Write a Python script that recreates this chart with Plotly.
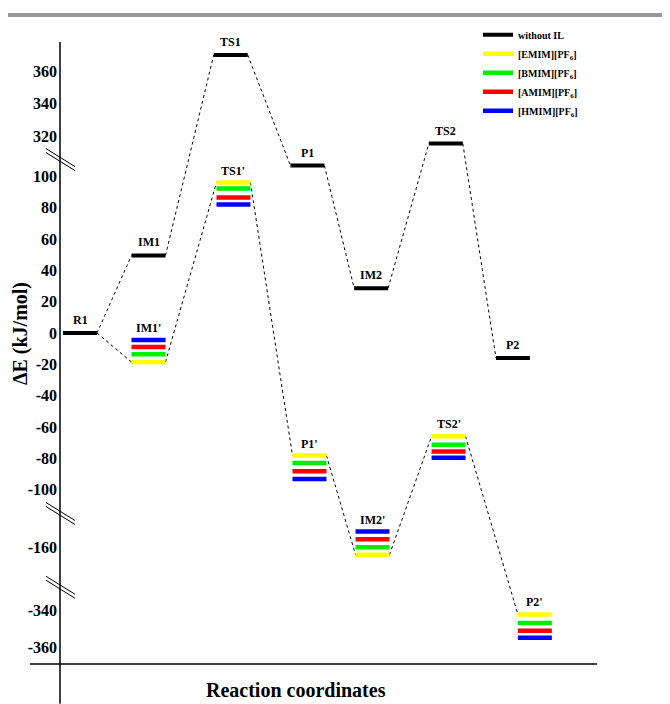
import plotly.graph_objects as go

# ---------------- data ----------------
stages_noil = ["R1", "IM1", "TS1", "P1", "IM2", "TS2", "P2"]
rc_noil = [0.0, 1.0, 2.2, 3.32, 4.25, 5.34, 6.32]
e_noil = [0.0, 49.6, 369.7, 107.0, 28.7, 315.8, -15.9]

stages_il = ["IM1'", "TS1'", "P1'", "IM2'", "TS2'", "P2'"]
rc_il = [1.0, 2.24, 3.35, 4.27, 5.38, 6.64]
e_emim = [-18.5, 96.2, -78.3, -164.6, -66.0, -342.3]
e_bmim = [-13.6, 92.4, -83.0, -159.8, -71.3, -347.0]
e_amim = [-8.9, 86.6, -88.3, -154.7, -75.6, -351.2]
e_hmim = [-4.5, 82.2, -93.2, -149.8, -79.6, -355.0]

series_names = ["without IL", "[EMIM][PF<sub>6</sub>]", "[BMIM][PF<sub>6</sub>]",
                "[AMIM][PF<sub>6</sub>]", "[HMIM][PF<sub>6</sub>]"]
series_colors = ["#000000", "#ffff00", "#00ee00", "#ff0000", "#0000ff"]

y_ticks = [360, 340, 320, 100, 80, 60, 40, 20, 0, -20, -40, -60, -80, -100,
           -160, -340, -360]

# ---------------- broken-axis scale ----------------
# (real_lo, real_hi, axis_lo, axis_hi)
SEGMENTS = [
    (-369.2, -327.57, -211.46, -162.42),
    (-185.4, -138.3, -162.42, -115.29),
    (-115.29, 110.83, -115.29, 110.83),
    (306.06, 377.58, 110.83, 185.99),
]
BREAKS = [-162.42, -115.29, 110.83]
Y_RANGE = [-211.46, 185.99]


def brk(v):
    for r0, r1, a0, a1 in SEGMENTS:
        if r0 - 1e-9 <= v <= r1 + 1e-9:
            return a0 + (v - r0) * (a1 - a0) / (r1 - r0)
    best = min(SEGMENTS, key=lambda s: min(abs(v - s[0]), abs(v - s[1])))
    r0, r1, a0, a1 = best
    return a0 + (v - r0) * (a1 - a0) / (r1 - r0)


HW = 0.248  # half bar width (reaction-coordinate units)
FONT = "Liberation Serif"

# page has an 8px body margin: figure is drawn 8px in from the top-left corner
W, H = 662, 696
ML, MR, MT, MB = 52, 73, 32, 40
PW, PH = W - ML - MR, H - MT - MB  # 537 x 624

fig = go.Figure()


def bar_trace(xs, es, name, color, width):
    X, Y = [], []
    for x, e in zip(xs, es):
        X += [x - HW, x + HW, None]
        Y += [brk(e), brk(e), None]
    return go.Scatter(x=X, y=Y, mode="lines", name=name,
                      line=dict(color=color, width=width),
                      hoverinfo="skip")


def connector(xs, es):
    X, Y = [], []
    for i in range(len(xs) - 1):
        X += [xs[i] + HW, xs[i + 1] - HW, None]
        Y += [brk(es[i]), brk(es[i + 1]), None]
    return go.Scatter(x=X, y=Y, mode="lines", showlegend=False,
                      line=dict(color="black", width=1, dash="3px,3px"),
                      hoverinfo="skip")


fig.add_trace(connector(rc_noil, e_noil))
fig.add_trace(connector([rc_noil[0]] + rc_il, [e_noil[0]] + e_emim))

fig.add_trace(bar_trace(rc_noil, e_noil, series_names[0], series_colors[0], 4))
for es, nm, col in zip([e_emim, e_bmim, e_amim, e_hmim], series_names[1:], series_colors[1:]):
    fig.add_trace(bar_trace(rc_il, es, nm, col, 4.5))

annotations = []
for x, e, s in zip(rc_noil, e_noil, stages_noil):
    annotations.append(dict(x=x, y=brk(e), text=f"<b>{s}</b>", showarrow=False,
                            yanchor="bottom", yshift=4, xref="x", yref="y",
                            font=dict(family=FONT, size=12, color="black")))
for i, (x, s) in enumerate(zip(rc_il, stages_il)):
    top = max(brk(e_emim[i]), brk(e_bmim[i]), brk(e_amim[i]), brk(e_hmim[i]))
    annotations.append(dict(x=x, y=top, text=f"<b>{s}</b>", showarrow=False,
                            yanchor="bottom", yshift=3, xref="x", yref="y",
                            font=dict(family=FONT, size=12, color="black")))

annotations.append(dict(x=(296 - 60) / PW, y=(664 - 690) / PH, xref="paper", yref="paper",
                        xanchor="center", yanchor="middle",
                        text="<b>Reaction coordinates</b>", showarrow=False,
                        font=dict(family=FONT, size=20, color="black")))
annotations.append(dict(x=(20 - 60) / PW, y=(664 - 333) / PH, xref="paper", yref="paper",
                        xanchor="center", yanchor="middle",
                        text="<b>ΔE (kJ/mol)</b>", showarrow=False, textangle=-90,
                        font=dict(family=FONT, size=20, color="black")))

shapes = []
shapes.append(dict(type="line", xref="paper", yref="paper",
                   x0=-ML / PW, x1=(W - ML) / PW, y0=(664 - 13) / PH, y1=(664 - 13) / PH,
                   line=dict(color="#999999", width=4)))
shapes.append(dict(type="line", xref="paper", yref="paper",
                   x0=0, x1=0, y0=-MB / PH, y1=1,
                   line=dict(color="black", width=1.5)))
shapes.append(dict(type="line", xref="paper", yref="paper",
                   x0=-30 / PW, x1=1, y0=0, y1=0,
                   line=dict(color="black", width=1.5)))
for b in BREAKS:
    for off in (2, -2):
        shapes.append(dict(type="line", xref="paper", yref="y",
                           xsizemode="pixel", ysizemode="pixel",
                           xanchor=0, yanchor=b,
                           x0=-14, x1=15, y0=9 + off, y1=-9 + off,
                           line=dict(color="black", width=1)))

fig.update_layout(
    width=W, height=H,
    margin=dict(l=ML, r=MR, t=MT, b=MB),
    paper_bgcolor="white", plot_bgcolor="white",
    font=dict(family=FONT, color="black"),
    xaxis=dict(range=[-0.292, 7.547], showgrid=False, zeroline=False,
               showline=False, showticklabels=False, ticks=""),
    yaxis=dict(range=Y_RANGE, showgrid=False, zeroline=False, showline=False,
               tickmode="array", tickvals=[brk(t) for t in y_ticks],
               ticktext=[f"<b>{t}</b>" for t in y_ticks], ticks="",
               ticklabelstandoff=2,
               tickfont=dict(family=FONT, size=16, color="black")),
    legend=dict(x=(478 - 60) / PW, y=1.035, xanchor="left", yanchor="top",
                bgcolor="rgba(0,0,0,0)", itemwidth=30, tracegroupgap=0,
                font=dict(family=FONT, size=10, color="black", weight="bold")),
    showlegend=True,
    annotations=annotations,
    shapes=shapes,
)

fig.write_html("out.html")
